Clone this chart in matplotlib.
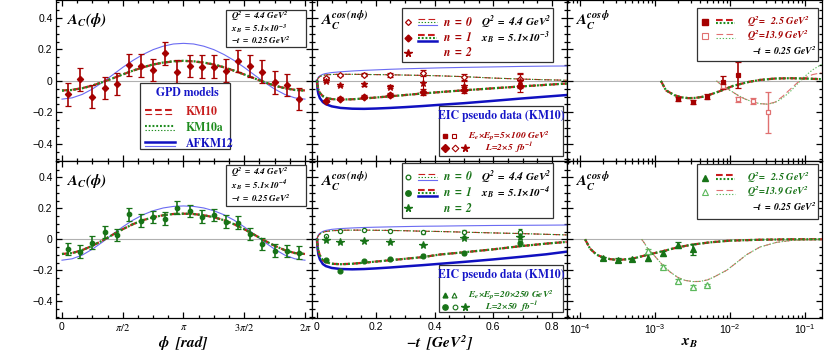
import numpy as np
import matplotlib
matplotlib.use("Agg")
import matplotlib.pyplot as plt
from matplotlib.patches import Rectangle
from matplotlib.lines import Line2D

plt.rcParams['mathtext.fontset'] = 'custom'
plt.rcParams['mathtext.rm'] = 'STIXGeneral'
plt.rcParams['mathtext.it'] = 'STIXGeneral:italic'
plt.rcParams['mathtext.bf'] = 'STIXGeneral:italic:bold'
plt.rcParams['mathtext.sf'] = 'Liberation Sans'
plt.rcParams['mathtext.fallback'] = 'stix'
plt.rcParams['font.family'] = ['Liberation Sans', 'DejaVu Sans']

# ---------------- data ----------------
# left column: A_C(phi)
phi_data = [0.157, 0.471, 0.785, 1.100, 1.414, 1.728, 2.042, 2.356, 2.670, 2.985,
            3.299, 3.613, 3.927, 4.241, 4.555, 4.869, 5.184, 5.498, 5.812, 6.126]
acphi_top = [-0.085, 0.010, -0.100, -0.046, -0.019, 0.100, 0.097, 0.070, 0.176, 0.059,
             0.095, 0.091, 0.091, 0.065, 0.127, 0.095, 0.059, -0.010, -0.025, -0.116]
acphi_top_err = [0.072] * 20
acphi_bot = [-0.063, -0.080, -0.022, 0.045, 0.028, 0.161, 0.120, 0.142, 0.133, 0.204,
             0.181, 0.146, 0.157, 0.114, 0.107, 0.034, -0.030, -0.073, -0.075, -0.086]
acphi_bot_err = [0.04] * 20

phi_curve = [0.000, 0.262, 0.524, 0.785, 1.047, 1.309, 1.571, 1.833, 2.094, 2.356, 2.618, 2.880, 3.142,
             3.403, 3.665, 3.927, 4.189, 4.451, 4.712, 4.974, 5.236, 5.498, 5.760, 6.021, 6.283]
km10_top = [-0.061, -0.057, -0.046, -0.030, -0.008, 0.016, 0.041, 0.065, 0.086, 0.104, 0.116, 0.124, 0.127,
            0.124, 0.116, 0.104, 0.086, 0.065, 0.041, 0.016, -0.008, -0.030, -0.046, -0.057, -0.061]
km10a_top = [-0.062, -0.058, -0.047, -0.030, -0.008, 0.016, 0.041, 0.065, 0.087, 0.105, 0.117, 0.125, 0.128,
             0.125, 0.117, 0.105, 0.087, 0.065, 0.041, 0.016, -0.008, -0.030, -0.047, -0.058, -0.062]
afkm_top = [-0.116, -0.108, -0.086, -0.052, -0.009, 0.038, 0.086, 0.130, 0.168, 0.199, 0.221, 0.235, 0.239,
            0.235, 0.221, 0.199, 0.168, 0.130, 0.086, 0.038, -0.009, -0.052, -0.086, -0.108, -0.116]
km10_bot = [-0.095, -0.089, -0.070, -0.042, -0.008, 0.029, 0.065, 0.097, 0.123, 0.142, 0.155, 0.163, 0.165,
            0.163, 0.155, 0.142, 0.123, 0.097, 0.065, 0.029, -0.008, -0.042, -0.070, -0.089, -0.095]
km10a_bot = [-0.095, -0.089, -0.070, -0.042, -0.008, 0.029, 0.065, 0.097, 0.123, 0.142, 0.155, 0.163, 0.165,
             0.163, 0.155, 0.142, 0.123, 0.097, 0.065, 0.029, -0.008, -0.042, -0.070, -0.089, -0.095]
afkm_bot = [-0.135, -0.126, -0.102, -0.064, -0.018, 0.032, 0.080, 0.123, 0.158, 0.184, 0.202, 0.212, 0.215,
            0.212, 0.202, 0.184, 0.158, 0.123, 0.080, 0.032, -0.018, -0.064, -0.102, -0.126, -0.135]

# middle column: A_C^{cos(n phi)} vs -t
t_data = [0.03, 0.08, 0.16, 0.25, 0.36, 0.50, 0.69]
top_n0 = [0.017, 0.038, 0.038, 0.038, 0.049, 0.027, 0.010]
top_n0_err = [0.008, 0.008, 0.01, 0.012, 0.02, 0.02, 0.04]
top_n1 = [-0.127, -0.113, -0.100, -0.089, -0.072, -0.057, -0.032]
top_n1_err = [0.008, 0.008, 0.01, 0.012, 0.02, 0.02, 0.04]
top_n2 = [0.000, -0.025, -0.022, -0.036, -0.011, -0.030, 0.000]
top_n2_err = [0.008, 0.008, 0.01, 0.012, 0.06, 0.03, 0.045]
bot_n0 = [0.021, 0.054, 0.060, 0.056, 0.045, 0.049, 0.049]
bot_n1 = [-0.134, -0.204, -0.140, -0.129, -0.106, -0.090, -0.026]
bot_n2 = [-0.005, -0.020, -0.009, -0.017, -0.037, 0.011, 0.015]
bot_err = [0.004, 0.004, 0.005, 0.006, 0.008, 0.01, 0.015]

t_curve = [0.0, 0.002, 0.005, 0.01, 0.02, 0.03, 0.05, 0.08, 0.12, 0.16, 0.20, 0.25, 0.30, 0.36, 0.42,
           0.50, 0.60, 0.69, 0.78, 0.85]
top_km_n0 = [0.0, 0.010, 0.020, 0.028, 0.035, 0.038, 0.041, 0.042, 0.042, 0.041, 0.040, 0.039, 0.037, 0.035,
             0.032, 0.027, 0.018, 0.012, 0.007, 0.004]
top_af_n0 = [0.0, 0.015, 0.025, 0.033, 0.042, 0.047, 0.053, 0.058, 0.063, 0.067, 0.070, 0.074, 0.077, 0.080,
             0.083, 0.086, 0.089, 0.092, 0.094, 0.095]
top_km_n1 = [0.0, -0.030, -0.055, -0.077, -0.097, -0.107, -0.116, -0.119, -0.117, -0.112, -0.106, -0.098,
             -0.090, -0.080, -0.071, -0.060, -0.047, -0.036, -0.025, -0.017]
top_af_n1 = [0.0, -0.055, -0.085, -0.110, -0.135, -0.148, -0.162, -0.172, -0.177, -0.178, -0.176, -0.172,
             -0.167, -0.160, -0.152, -0.142, -0.127, -0.113, -0.100, -0.090]
bot_km_n0 = [0.0, 0.012, 0.024, 0.034, 0.045, 0.050, 0.055, 0.058, 0.059, 0.059, 0.058, 0.057, 0.055, 0.052,
             0.050, 0.046, 0.041, 0.037, 0.032, 0.028]
bot_af_n0 = [0.0, 0.018, 0.030, 0.040, 0.051, 0.057, 0.064, 0.069, 0.073, 0.076, 0.078, 0.080, 0.082, 0.084,
             0.085, 0.087, 0.089, 0.090, 0.091, 0.092]
bot_km_n1 = [0.0, -0.040, -0.075, -0.105, -0.135, -0.148, -0.158, -0.161, -0.158, -0.151, -0.144, -0.135,
             -0.126, -0.115, -0.098, -0.084, -0.065, -0.045, -0.028, -0.017]
bot_af_n1 = [0.0, -0.060, -0.100, -0.130, -0.160, -0.173, -0.185, -0.192, -0.194, -0.192, -0.188, -0.182,
             -0.175, -0.167, -0.158, -0.146, -0.130, -0.114, -0.097, -0.080]

# right column: A_C^{cos phi} vs x_B
xb_top_q25 = [2.0e-3, 3.2e-3, 5.0e-3, 8.0e-3, 1.27e-2]
ac_top_q25 = [-0.113, -0.132, -0.100, -0.009, 0.038]
ac_top_q25_err = [0.012, 0.012, 0.018, 0.040, 0.085]
xb_top_q139 = [8.0e-3, 1.27e-2, 2.0e-2, 3.2e-2]
ac_top_q139 = [-0.032, -0.117, -0.127, -0.200]
ac_top_q139_err = [0.015, 0.015, 0.020, 0.130]
xb_bot_q25 = [2.0e-4, 3.2e-4, 5.0e-4, 8.0e-4, 1.27e-3, 2.0e-3, 3.2e-3]
ac_bot_q25 = [-0.123, -0.134, -0.129, -0.118, -0.090, -0.037, -0.065]
ac_bot_q25_err = [0.010, 0.010, 0.010, 0.025, 0.015, 0.020, 0.035]
xb_bot_q139 = [8.0e-4, 1.27e-3, 2.0e-3, 3.2e-3, 5.0e-3]
ac_bot_q139 = [-0.075, -0.177, -0.269, -0.306, -0.295]
ac_bot_q139_err = [0.012, 0.010, 0.010, 0.010, 0.008]

xc_top_q25 = [1.2e-3, 1.4e-3, 1.8e-3, 2.2e-3, 2.8e-3, 3.5e-3, 4.5e-3, 5.6e-3, 7.1e-3, 8.9e-3, 1.1e-2,
              1.4e-2, 1.8e-2, 2.5e-2, 4.0e-2, 6.3e-2, 0.10, 0.166]
km_top_q25 = [0.0, -0.060, -0.090, -0.104, -0.110, -0.108, -0.100, -0.085, -0.068, -0.049, -0.032,
              -0.019, -0.006, 0.006, 0.015, 0.017, 0.015, 0.011]
xc_top_q139 = [6.6e-3, 7.9e-3, 1.0e-2, 1.26e-2, 1.58e-2, 2.0e-2, 2.5e-2, 3.16e-2, 4.0e-2, 5.0e-2, 6.3e-2,
               7.9e-2, 0.10, 0.126, 0.166]
km10_top_q139 = [0.0, -0.030, -0.060, -0.090, -0.115, -0.133, -0.145, -0.148, -0.135, -0.100, -0.055,
                 -0.012, 0.020, 0.040, 0.052]
km10a_top_q139 = [0.0, -0.030, -0.060, -0.090, -0.115, -0.133, -0.145, -0.148, -0.138, -0.110, -0.070,
                  -0.020, 0.030, 0.070, 0.105]
xc_bot_q25 = [1.17e-4, 1.36e-4, 1.67e-4, 2.01e-4, 2.51e-4, 3.24e-4, 5.05e-4, 8.0e-4, 1.27e-3, 2.01e-3,
              3.18e-3, 5.4e-3, 1.0e-2, 2.51e-2, 6.9e-2, 0.174]
km_bot_q25 = [0.0, -0.060, -0.100, -0.116, -0.128, -0.134, -0.125, -0.100, -0.077, -0.052, -0.034,
              -0.020, -0.009, -0.003, 0.0, 0.0]
xc_bot_q139 = [6.64e-4, 7.36e-4, 7.98e-4, 1.0e-3, 1.26e-3, 1.58e-3, 2.0e-3, 2.51e-3, 3.18e-3, 3.98e-3,
               5.04e-3, 6.31e-3, 9.04e-3, 1.23e-2, 1.66e-2, 2.51e-2, 4.17e-2, 6.92e-2, 0.174]
km_bot_q139 = [0.0, -0.030, -0.060, -0.110, -0.166, -0.210, -0.245, -0.265, -0.273, -0.272, -0.262,
               -0.240, -0.200, -0.150, -0.100, -0.050, -0.020, -0.006, 0.0]

phi_ticks = [0, np.pi / 2, np.pi, 3 * np.pi / 2, 2 * np.pi]
phi_ticklabels = ['0', r'$\pi/2$', r'$\pi$', r'$3\pi/2$', r'$2\pi$']
t_ticks = [0, 0.2, 0.4, 0.6, 0.8]
t_ticklabels = ['0', '0.2', '0.4', '0.6', '0.8']
xb_ticks = [1e-4, 1e-3, 1e-2, 1e-1]
xb_ticklabels = [r'$\mathsf{10^{-4}}$', r'$\mathsf{10^{-3}}$', r'$\mathsf{10^{-2}}$', r'$\mathsf{10^{-1}}$']
y_ticks = [-0.4, -0.2, 0, 0.2, 0.4]
y_ticklabels = ['\u22120.4', '\u22120.2', '0', '0.2', '0.4']

# ---------------- style ----------------
RED = '#c81e1e'
RED_D = '#a50000'
RED_L = '#e07070'
GREEN = '#1f8c1f'
GREEN_D = '#177317'
GREEN_L = '#5cb85c'
BLUE = '#1010c0'
BLUE_L = '#6b6bf2'
W, H = 830, 356

fig = plt.figure(figsize=(W / 100, H / 100), dpi=100)


def F(x, y):
    return (x / W, 1 - y / H)


def add_ax(x0, y0, x1, y1):
    return fig.add_axes([x0 / W, 1 - y1 / H, (x1 - x0) / W, (y1 - y0) / H])


axes = {}
cols = [(56, 312), (312, 567), (567, 822)]
rows = [(0, 161), (161, 318)]
for r, (y0, y1) in enumerate(rows):
    for c, (x0, x1) in enumerate(cols):
        axes[(r, c)] = add_ax(x0, y0, x1, y1)

for (r, c), ax in axes.items():
    ax.set_ylim((-0.51, 0.515) if r == 0 else (-0.508, 0.505))
    ax.axhline(0, color='#b0b0b0', lw=0.8, zorder=1)
    ax.set_yticks(y_ticks)
    ax.set_yticks(np.arange(-0.5, 0.51, 0.05), minor=True)
    if c == 0:
        ax.set_yticklabels(y_ticklabels)
    else:
        ax.set_yticklabels([])
    ax.tick_params(which='both', direction='in', top=True, right=True, width=0.9, labelsize=7.5,
                   colors='black', pad=2.5)
    ax.tick_params(which='major', length=4)
    ax.tick_params(which='minor', length=2.2)
    for s in ax.spines.values():
        s.set_linewidth(0.9)
    if c == 0:
        ax.set_xlim(-0.155, 6.465)
        ax.set_xticks(phi_ticks)
        ax.set_xticks(np.arange(0, 6.3, np.pi / 8), minor=True)
        ax.set_xticklabels(phi_ticklabels if r == 1 else [])
    elif c == 1:
        ax.set_xlim(-0.017, 0.851)
        ax.set_xticks(t_ticks)
        ax.set_xticks(np.arange(0, 0.851, 0.05), minor=True)
        ax.set_xticklabels(t_ticklabels if r == 1 else [])
    else:
        ax.set_xscale('log')
        ax.set_xlim(10 ** -4.173, 10 ** -0.773)
        ax.set_xticks(xb_ticks)
        ax.set_xticklabels(xb_ticklabels if r == 1 else [])
    ax.tick_params(axis='x', labelsize=7.5, pad=3)


def km_pair(ax, x, yk, yka, thick=True, red=RED, green=GREEN):
    lw = 1.6 if thick else 0.8
    ax.plot(x, yk, color=red, lw=lw, dashes=(3.2, 1.6) if thick else (6, 3), zorder=3)
    ax.plot(x, yka, color=green, lw=lw, dashes=(0.9, 0.9) if thick else (1.2, 1.6), zorder=4)


def eb(ax, x, y, e, color, marker, ms, mfc=None, lw=1.0, cap=2.5, zorder=6):
    ax.errorbar(x, y, yerr=e, fmt=marker, color=color, ms=ms, mfc=mfc if mfc else color,
                mec=color, mew=0.9, elinewidth=lw, capsize=cap, capthick=lw, zorder=zorder)


# ---- left column ----
for r, (km, kma, af, dat, err, col) in enumerate([
        (km10_top, km10a_top, afkm_top, acphi_top, acphi_top_err, RED_D),
        (km10_bot, km10a_bot, afkm_bot, acphi_bot, acphi_bot_err, GREEN_D)]):
    ax = axes[(r, 0)]
    ax.plot(phi_curve, af, color=BLUE_L, lw=0.8, zorder=2)
    km_pair(ax, phi_curve, km, kma, thick=True)
    eb(ax, phi_data, dat, err, col, 'D' if r == 0 else 'o', 3.2, lw=1.2, cap=2.5)

# ---- middle column ----
ax = axes[(0, 1)]
ax.plot(t_curve, top_af_n0, color=BLUE_L, lw=0.8, zorder=2)
ax.plot(t_curve, top_af_n1, color=BLUE, lw=1.8, zorder=2)
km_pair(ax, t_curve, top_km_n0, top_km_n0, thick=False)
km_pair(ax, t_curve, top_km_n1, top_km_n1, thick=True)
eb(ax, t_data, top_n0, top_n0_err, RED_D, 'D', 3.0, mfc='white', lw=0.8, cap=2)
eb(ax, t_data, top_n1, top_n1_err, RED_D, 'D', 3.5, lw=0.8, cap=2)
eb(ax, t_data, top_n2, top_n2_err, RED_D, '*', 5.0, lw=0.8, cap=2)

ax = axes[(1, 1)]
ax.plot(t_curve, bot_af_n0, color=BLUE_L, lw=0.8, zorder=2)
ax.plot(t_curve, bot_af_n1, color=BLUE, lw=1.8, zorder=2)
km_pair(ax, t_curve, bot_km_n0, bot_km_n0, thick=False)
km_pair(ax, t_curve, bot_km_n1, bot_km_n1, thick=True)
eb(ax, t_data, bot_n0, bot_err, GREEN_D, 'o', 3.0, mfc='white', lw=0.8, cap=1.5)
eb(ax, t_data, bot_n1, bot_err, GREEN_D, 'o', 3.5, lw=0.8, cap=1.5)
eb(ax, t_data, bot_n2, bot_err, GREEN_D, '*', 5.5, lw=0.8, cap=1.5)

# ---- right column ----
ax = axes[(0, 2)]
km_pair(ax, xc_top_q139, km10_top_q139, km10a_top_q139, thick=False, red=RED_L, green=GREEN_L)
km_pair(ax, xc_top_q25, km_top_q25, km_top_q25, thick=True)
eb(ax, xb_top_q139, ac_top_q139, ac_top_q139_err, RED_L, 's', 3.0, mfc='white', lw=1.0, cap=2)
eb(ax, xb_top_q25, ac_top_q25, ac_top_q25_err, RED_D, 's', 3.5, lw=1.2, cap=2)

ax = axes[(1, 2)]
km_pair(ax, xc_bot_q139, km_bot_q139, km_bot_q139, thick=False, red=RED_L, green=GREEN_L)
km_pair(ax, xc_bot_q25, km_bot_q25, km_bot_q25, thick=True)
eb(ax, xb_bot_q139, ac_bot_q139, ac_bot_q139_err, GREEN_L, '^', 4.0, mfc='white', lw=1.0, cap=2)
eb(ax, xb_bot_q25, ac_bot_q25, ac_bot_q25_err, GREEN_D, '^', 4.0, lw=1.2, cap=2)

# ---------------- annotations (figure pixel coords) ----------------
SER = 'STIXGeneral'


def txt(x, y, s, size=8, color='black', ha='left', va='center', **kw):
    fig.text(*F(x, y), s, fontsize=size, color=color, ha=ha, va=va, family=SER, zorder=20, **kw)


def box(x0, y0, x1, y1):
    fig.add_artist(Rectangle(F(x0, y1), (x1 - x0) / W, (y1 - y0) / H, transform=fig.transFigure,
                             fc='white', ec='#333333', lw=0.9, zorder=15))


def hline(x0, x1, y, **kw):
    fig.add_artist(Line2D([x0 / W, x1 / W], [1 - y / H] * 2, transform=fig.transFigure, zorder=18, **kw))


def mark(x, y, **kw):
    fig.add_artist(Line2D([x / W], [1 - y / H], transform=fig.transFigure, zorder=18, ls='none', **kw))


# panel titles
for r, y in [(0, 0), (1, 161)]:
    txt(66, y + 20, r'$\mathbf{A_C(\phi)}$', size=11)
    txt(320, y + 20, r'$\mathbf{A_C^{cos\,(n\phi)}}$', size=11)
    txt(575, y + 20, r'$\mathbf{A_C^{cos\,\phi}}$', size=11)

# axis labels
txt(184, 343, r'$\mathbf{\phi\ \ [rad]}$', size=11, ha='center')
txt(440, 343, r'$\mathbf{-t\ \ [GeV^2]}$', size=11, ha='center')
txt(690, 343, r'$\mathbf{x_B}$', size=11, ha='center')

# info boxes left
for (y0, y1, xb, dy) in [(10, 47, r'5.1{\times}10^{-3}', 12), (165, 206, r'5.1{\times}10^{-4}', 13)]:
    box(226, y0, 306, y1)
    ym = (y0 + y1) / 2
    txt(231, ym - dy, r'$\mathbf{Q^2\ =\ 4.4\ GeV^2}$', size=6.5)
    txt(231, ym, r'$\mathbf{x_B\ =\ ' + xb + '}$', size=6.5)
    txt(231, ym + dy, r'$\mathbf{-t\ =\ 0.25\ GeV^2}$', size=6.5)

# GPD models legend
box(140, 83, 230, 149)
txt(187, 93, 'GPD models', size=8.5, color='#1515c8', ha='center', weight='bold')
hline(145, 175, 110, color=RED, lw=1.5, dashes=(3.2, 1.6))
hline(145, 175, 113.5, color=RED, lw=0.8, dashes=(6, 3))
hline(145, 175, 126, color=GREEN, lw=1.5, dashes=(0.9, 0.9))
hline(145, 175, 129.5, color=GREEN, lw=0.8, dashes=(1.2, 1.6))
hline(145, 175, 142, color=BLUE, lw=1.8)
hline(145, 175, 145.5, color=BLUE_L, lw=0.8)
txt(186, 112, 'KM10', size=8.5, color=RED, weight='bold')
txt(186, 128, 'KM10a', size=8.5, color=GREEN, weight='bold')
txt(186, 144, 'AFKM12', size=8.5, color=BLUE, weight='bold')

# middle legends
for (y0, y1, col, mk, xb) in [(8, 62, RED_D, 'D', r'5.1{\times}10^{-3}'),
                              (163, 218, GREEN_D, 'o', r'5.1{\times}10^{-4}')]:
    box(402, y0, 553, y1)
    ys = [y0 + 14, y0 + 29.5, y0 + 45]
    ms = 3.0 if mk == 'D' else 3.4
    mark(408, ys[0], marker=mk, ms=ms, mfc='white', mec=col, mew=0.9)
    mark(408, ys[1], marker=mk, ms=ms + 0.5, mfc=col, mec=col)
    mark(408, ys[2], marker='*', ms=5.5, mfc=col, mec=col)
    hline(418, 437, ys[0] - 3, color=RED, lw=0.8, dashes=(6, 3))
    hline(418, 437, ys[0], color=GREEN, lw=0.8, dashes=(1.2, 1.6))
    hline(418, 437, ys[0] + 3, color=BLUE_L, lw=0.8)
    hline(418, 437, ys[1] - 3, color=RED, lw=1.5, dashes=(3.2, 1.6))
    hline(418, 437, ys[1], color=GREEN, lw=1.5, dashes=(0.9, 0.9))
    hline(418, 437, ys[1] + 3.5, color=BLUE, lw=1.8)
    for k in range(3):
        txt(443, ys[k], r'$\mathbf{n\ =\ %d}$' % k, size=8.5, color=col)
    txt(481, ys[0], r'$\mathbf{Q^2\ =\ 4.4\ GeV^2}$', size=8.0)
    txt(481, ys[1], r'$\mathbf{x_B\ =\ ' + xb + '}$', size=8.0)

# EIC boxes
for (y0, y1, col, m1, m2, beam, lum) in [
        (106, 156, RED_D, 's', 'D', r'E_e{\times}E_p\!=\!5{\times}\,100\ GeV^2', r'L\!=\!2{\times}5\ \ fb^{-1}'),
        (265, 312, GREEN_D, '^', 'o', r'E_e{\times}E_p\!=\!20{\times}250\ GeV^2', r'L\!=\!2{\times}50\ \ fb^{-1}')]:
    box(439, y0, 563, y1)
    txt(501, y0 + 10, 'EIC pseudo data (KM10)', size=8.5, color='#1515c8', ha='center', weight='bold')
    yr1, yr2 = y0 + 30, y0 + 42
    mark(445, yr1, marker=m1, ms=3.5, mfc=col, mec=col)
    mark(454, yr1, marker=m1, ms=3.5, mfc='white', mec=col, mew=0.8)
    mark(445, yr2, marker=m2, ms=3.8, mfc=col, mec=col)
    mark(455, yr2, marker=m2, ms=3.4, mfc='white', mec=col, mew=0.8)
    mark(465, yr2, marker='*', ms=5.5, mfc=col, mec=col)
    txt(468, yr1, r'$\mathbf{' + beam + '}$', size=6.8, color=col)
    txt(485, yr2, r'$\mathbf{' + lum + '}$', size=6.8, color=col)

# right legends
for (y0, y1, col, colL, mk) in [(8, 61, RED_D, RED_L, 's'), (164, 219, GREEN_D, GREEN_L, '^')]:
    box(697, y0, 818, y1)
    ys = [y0 + 13.5, y0 + 28, y0 + 43]
    mark(705, ys[0], marker=mk, ms=4, mfc=col, mec=col)
    mark(705, ys[1], marker=mk, ms=4, mfc='white', mec=colL, mew=0.8)
    hline(716, 735, ys[0] - 2, color=RED, lw=1.5, dashes=(3.2, 1.6))
    hline(716, 735, ys[0] + 1.5, color=GREEN, lw=1.5, dashes=(0.9, 0.9))
    hline(716, 735, ys[1] - 2, color=RED_L, lw=0.8, dashes=(6, 3))
    hline(716, 735, ys[1] + 1.5, color=GREEN_L, lw=0.8, dashes=(1.2, 1.6))
    txt(747, ys[0], r'$\mathbf{Q^2\!=\ \ 2.5\ GeV^2}$', size=7.3, color=col)
    txt(747, ys[1], r'$\mathbf{Q^2\!=\!13.9\ GeV^2}$', size=7.3, color=col)
    txt(752, ys[2], r'$\mathbf{-t\ =\ 0.25\ GeV^2}$', size=7.0, color='black')

fig.savefig('out.png', dpi=100)
